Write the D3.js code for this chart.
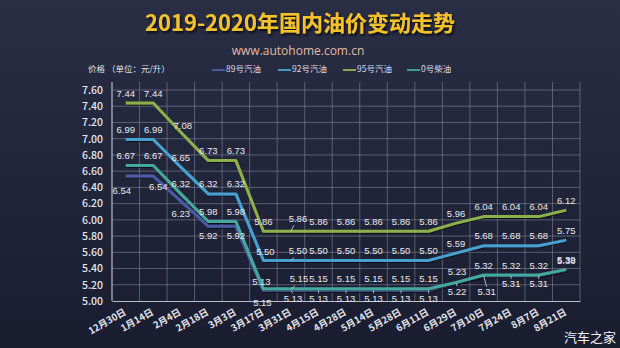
<!DOCTYPE html>
<html>
<head>
<meta charset="utf-8">
<script src="https://cdn.jsdelivr.net/npm/d3@7/dist/d3.min.js"></script>
<style>
  html, body { margin: 0; padding: 0; background: #1d2033; }
  svg { display: block; }
</style>
</head>
<body>
<svg id="chart" width="620" height="348"></svg>
<script>
// Adjustment dates (2019-12-30 to 2020-08-21)
const dates = ["12月30日","1月14日","2月4日","2月18日","3月3日","3月17日","3月31日","4月15日","4月28日","5月14日","5月28日","6月11日","6月29日","7月10日","7月24日","8月7日","8月21日"];

// Prices in yuan per litre
const gas89  = [6.54,6.54,6.23,5.92,5.92,5.13,5.13,5.13,5.13,5.13,5.13,5.13,5.22,5.31,5.31,5.31,5.38];
const gas92  = [6.99,6.99,6.65,6.32,6.32,5.50,5.50,5.50,5.50,5.50,5.50,5.50,5.59,5.68,5.68,5.68,5.75];
const gas95  = [7.44,7.44,7.08,6.73,6.73,5.86,5.86,5.86,5.86,5.86,5.86,5.86,5.96,6.04,6.04,6.04,6.12];
const diesel0 = [6.67,6.67,6.32,5.98,5.98,5.15,5.15,5.15,5.15,5.15,5.15,5.15,5.23,5.32,5.32,5.32,5.39];

const seriesNames = ["89号汽油","92号汽油","95号汽油","0号柴油"];
const yTicks = [5.00,5.20,5.40,5.60,5.80,6.00,6.20,6.40,6.60,6.80,7.00,7.20,7.40,7.60];

const colors = ["#4b5aa6", "#47a0cf", "#8db04c", "#45a89c"];
const legendColors = ["#4a5a9c", "#3e9ec2", "#88a852", "#3d9c98"];

const series = [gas89, gas92, gas95, diesel0].map((vals, i) => ({ name: seriesNames[i], vals, color: colors[i] }));

// Label placement: default offset per series, with a few per-point nudges
const labelDefault = [ {dx:0, dy:10}, {dx:0, dy:-9}, {dx:0, dy:-9}, {dx:0, dy:-9} ];
const labelNudge = {
  "0-0": {dx:-4, dy:15}, "0-1": {dx:5, dy:11}, "0-2": {dx:0, dy:13.5}, "0-5": {dx:-2, dy:-8},
  "0-6": {dx:2, dy:9, lead:true}, "0-7": {dx:0, dy:9, lead:true}, "0-8": {dx:0, dy:9, lead:true},
  "0-9": {dx:0, dy:9, lead:true}, "0-10": {dx:0, dy:9, lead:true}, "0-11": {dx:0, dy:9, lead:true},
  "0-12": {dx:1, dy:9, lead:true}, "0-13": {dx:3, dy:17, lead:true}, "0-14": {dx:0, dy:9, lead:true},
  "0-15": {dx:0, dy:9, lead:true}, "0-16": {dx:0, dy:-9},
  "1-5": {dx:2, dy:-8}, "1-6": {dx:7, dy:-9, lead:true},
  "2-2": {dx:2, dy:-6}, "2-6": {dx:7, dy:-12, lead:true},
  "3-5": {dx:-1, dy:14.5}, "3-6": {dx:8, dy:-9, lead:true}, "3-12": {dx:1, dy:-10}
};

const svg = d3.select("#chart");
const W = 620, H = 348;

// Background
const defs = svg.append("defs");
const bg = defs.append("linearGradient").attr("id", "bg").attr("x1", 0).attr("y1", 0).attr("x2", 0).attr("y2", 1);
bg.append("stop").attr("offset", "0%").attr("stop-color", "#292e45");
bg.append("stop").attr("offset", "100%").attr("stop-color", "#1a1d30");
svg.append("rect").attr("width", W).attr("height", H).attr("fill", "url(#bg)");

const shadow = defs.append("filter").attr("id", "shadow").attr("x", "-10%").attr("y", "-30%").attr("width", "120%").attr("height", "160%");
shadow.append("feDropShadow").attr("dx", 1.5).attr("dy", 2).attr("stdDeviation", 1.2).attr("flood-color", "#000").attr("flood-opacity", 0.75);

const lineShadow = defs.append("filter").attr("id", "lineShadow").attr("x", "-5%").attr("y", "-5%").attr("width", "110%").attr("height", "110%");
lineShadow.append("feDropShadow").attr("dx", 0.8).attr("dy", 1).attr("stdDeviation", 0.6).attr("flood-color", "#000").attr("flood-opacity", 0.6);

const cjk = "'Noto Sans CJK SC', 'Noto Sans', sans-serif";

// Title and subtitle
svg.append("text").attr("x", 300).attr("y", 31).attr("text-anchor", "middle")
  .attr("font-family", cjk).attr("font-weight", 700).attr("font-size", 22)
  .attr("fill", "#f6c22a").attr("filter", "url(#shadow)")
  .text("2019-2020年国内油价变动走势");
svg.append("text").attr("x", 298).attr("y", 55).attr("text-anchor", "middle")
  .attr("font-family", "'Open Sans', 'Noto Sans', sans-serif").attr("font-size", 12)
  .attr("fill", "#e3b9a3").text("www.autohome.com.cn");

svg.append("text").attr("x", 88).attr("y", 72).attr("font-family", cjk).attr("font-size", 8.5)
  .attr("fill", "#dfe1ea").text("价格 （单位：元/升）");

// Plot scales
const plot = { left: 112, right: 580, top: 82, bottom: 301 };
const x = d3.scaleBand().domain(dates).range([plot.left, plot.right]).paddingInner(0).paddingOuter(0);
const y = d3.scaleLinear().domain([5.0, 7.6]).range([plot.bottom, 90]);
const cx = d => x(d) + x.bandwidth() / 2;

// Grid
const grid = svg.append("g");
grid.selectAll(".hg").data(yTicks.slice(1)).join("line")
  .attr("x1", plot.left).attr("x2", plot.right)
  .attr("y1", d => y(d)).attr("y2", d => y(d))
  .attr("stroke", "#9398ab").attr("stroke-opacity", 0.5).attr("stroke-width", 1);
grid.selectAll(".vg").data(dates.slice(1).concat(["end"])).join("line")
  .attr("x1", d => d === "end" ? plot.right : x(d)).attr("x2", d => d === "end" ? plot.right : x(d))
  .attr("y1", plot.top).attr("y2", plot.bottom)
  .attr("stroke", "#9398ab").attr("stroke-opacity", 0.5).attr("stroke-width", 1);

// Axes
const yAxis = d3.axisLeft(y).tickValues(yTicks).tickFormat(d3.format(".2f")).tickSize(0).tickPadding(9);
const gy = svg.append("g").attr("transform", `translate(${plot.left},0)`).call(yAxis);
gy.select(".domain").attr("stroke", "#b9bccb").attr("stroke-width", 1.2).attr("d", `M0,${plot.top}V${plot.bottom}`);
gy.selectAll("text").attr("font-family", cjk).attr("font-size", 10.5).attr("font-weight", 500).attr("fill", "#e6e7ee");

const xAxis = d3.axisBottom(x).tickSize(0).tickPadding(0);
const gx = svg.append("g").attr("transform", `translate(0,${plot.bottom})`).call(xAxis);
gx.select(".domain").attr("stroke", "#b9bccb").attr("stroke-width", 1.2);
gx.selectAll("text")
  .attr("font-family", cjk).attr("font-size", 9.5).attr("font-weight", 700).attr("fill", "#e3e4ec")
  .attr("text-anchor", "end").attr("dy", 0)
  .attr("transform", "translate(1,13) rotate(-30)");

// Lines
const line = d3.line().x((v, i) => cx(dates[i])).y(v => y(v));
const lines = svg.append("g");
series.forEach(s => {
  lines.append("path").datum(s.vals).attr("d", line)
    .attr("fill", "none").attr("stroke", s.color).attr("stroke-width", 3)
    .attr("stroke-linejoin", "round").attr("filter", "url(#lineShadow)");
});

// Value labels
const labels = svg.append("g").attr("font-family", "'Liberation Sans', 'Noto Sans', sans-serif")
  .attr("font-size", 9.5).attr("fill", "#e9e9ee");
series.forEach((s, si) => {
  s.vals.forEach((v, i) => {
    const o = labelNudge[`${si}-${i}`] || labelDefault[si];
    const px = cx(dates[i]), py = y(v);
    const lx = px + o.dx, ly = py + o.dy;
    if (o.lead) {
      const toward = o.dy > 0 ? -6 : 6;
      labels.append("line").attr("x1", px).attr("y1", py)
        .attr("x2", lx - (o.dx > 3 ? 4 : 0)).attr("y2", ly + toward)
        .attr("stroke", "#d8d9e2").attr("stroke-width", 0.8);
    }
    labels.append("text").attr("x", lx).attr("y", ly).attr("text-anchor", "middle")
      .attr("dominant-baseline", "middle").text(v.toFixed(2));
  });
});

// Legend
const legend = svg.append("g").attr("transform", "translate(212,70)");
const legX = [0, 66, 131, 195];
seriesNames.forEach((n, i) => {
  const g = legend.append("g").attr("transform", `translate(${legX[i]},0)`);
  g.append("line").attr("x1", 0).attr("x2", 13).attr("y1", 0).attr("y2", 0)
    .attr("stroke", legendColors[i]).attr("stroke-width", 2);
  g.append("text").attr("x", 14).attr("y", 0).attr("dominant-baseline", "middle")
    .attr("font-family", cjk).attr("font-size", 8.5).attr("fill", "#d9dbe4").text(n);
});

// Brand mark
svg.append("text").attr("x", 616).attr("y", 342).attr("text-anchor", "end")
  .attr("font-family", cjk).attr("font-size", 13).attr("fill", "#f2f2f5").text("汽车之家");
</script>
</body>
</html>
